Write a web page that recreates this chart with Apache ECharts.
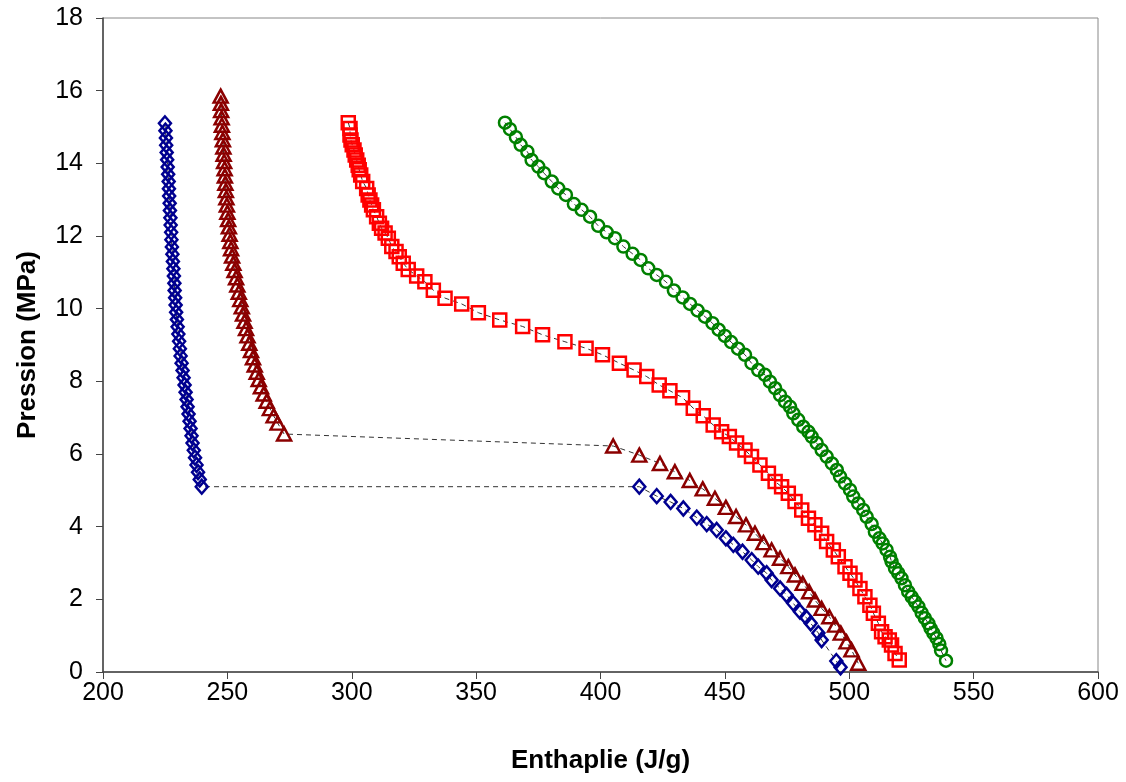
<!DOCTYPE html>
<html>
<head>
<meta charset="utf-8">
<script src="https://cdn.jsdelivr.net/npm/echarts@6/dist/echarts.min.js"></script>
<style>html,body{margin:0;padding:0;background:#fff}#c{width:1126px;height:782px}</style>
</head>
<body>
<div id="c"></div>
<script>
// Blue diamonds: enthalpy (J/g), pressure (MPa)
const blueH = [224.9,225.1,225.3,225.4,225.6,225.8,226.0,226.2,226.4,226.5,226.6,226.8,226.9,227.1,227.2,227.4,227.5,227.7,227.9,228.1,228.3,228.5,228.7,228.8,229.0,229.2,229.4,229.7,230.0,230.3,230.6,230.9,231.2,231.6,232.0,232.4,232.8,233.2,233.6,234.0,234.4,234.8,235.2,235.6,236.0,236.5,237.0,237.6,238.2,238.9,239.7,
  415.6,422.6,428.2,433.3,438.7,442.7,446.7,450.4,453.4,457.1,460.8,463.4,466.8,468.8,472.2,474.8,477.5,480.2,482.6,484.5,487.6,488.9,494.8,496.5];
const blueP = [15.10,14.90,14.70,14.50,14.30,14.10,13.90,13.70,13.50,13.30,13.10,12.90,12.70,12.50,12.30,12.10,11.90,11.70,11.50,11.30,11.10,10.90,10.70,10.50,10.30,10.10,9.90,9.70,9.50,9.30,9.10,8.90,8.70,8.50,8.30,8.10,7.90,7.70,7.50,7.30,7.10,6.90,6.70,6.50,6.30,6.10,5.90,5.70,5.50,5.30,5.10,
  5.10,4.84,4.68,4.50,4.25,4.07,3.91,3.68,3.50,3.31,3.08,2.90,2.72,2.53,2.30,2.12,1.89,1.66,1.51,1.34,1.07,0.88,0.30,0.13];

// Dark red triangles
const darkRedH = [247.3,247.4,247.5,247.7,247.8,248.0,248.2,248.4,248.5,248.7,248.9,249.0,249.2,249.4,249.6,249.8,250.0,250.3,250.6,250.9,251.2,251.5,251.9,252.4,252.9,253.5,254.0,254.6,255.2,255.8,256.3,256.9,257.5,258.1,258.8,259.5,260.3,261.0,261.8,262.6,263.5,264.6,265.8,267.1,268.6,270.2,272.8,
  405.1,415.6,423.9,429.9,435.9,441.1,446.0,450.4,454.5,458.5,462.1,465.5,468.8,472.2,475.5,478.2,481.3,483.9,486.2,488.9,492.0,494.3,496.6,498.9,500.9,503.6];
const darkRedP = [15.85,15.65,15.45,15.25,15.05,14.85,14.65,14.45,14.25,14.05,13.85,13.65,13.45,13.25,13.05,12.85,12.65,12.45,12.25,12.05,11.85,11.65,11.45,11.25,11.05,10.85,10.65,10.45,10.25,10.05,9.85,9.65,9.45,9.25,9.05,8.85,8.65,8.45,8.25,8.05,7.85,7.65,7.45,7.25,7.05,6.85,6.55,
  6.22,5.97,5.74,5.51,5.27,5.04,4.78,4.53,4.28,4.05,3.82,3.56,3.36,3.13,2.90,2.67,2.44,2.21,1.98,1.75,1.52,1.29,1.07,0.83,0.61,0.24];

// Red squares
const redH = [298.6,299.3,299.3,299.7,300.2,300.9,301.4,302.0,302.6,303.0,303.6,304.4,306.0,306.6,307.3,308.0,308.7,310.0,311.1,312.0,313.4,314.7,316.1,317.8,319.1,320.7,322.7,326.1,329.4,332.8,337.5,344.2,350.9,359.5,368.7,376.7,385.7,394.2,400.8,407.6,413.5,418.6,423.6,427.9,433.0,437.3,441.3,445.3,448.7,451.8,454.7,458.1,460.7,464.1,467.5,470.2,472.8,475.5,478.2,480.9,483.6,486.2,488.9,490.9,493.6,495.6,498.3,500.3,502.3,504.3,506.3,508.3,509.7,511.7,513.0,514.4,516.1,517.0,518.4,520.1];
const redP = [15.12,14.96,14.78,14.64,14.51,14.37,14.23,14.09,13.95,13.82,13.68,13.50,13.31,13.13,12.99,12.85,12.72,12.53,12.35,12.21,12.08,11.94,11.71,11.57,11.43,11.25,11.08,10.90,10.74,10.51,10.29,10.13,9.89,9.69,9.51,9.28,9.09,8.91,8.73,8.50,8.31,8.13,7.90,7.74,7.55,7.26,7.05,6.80,6.61,6.48,6.30,6.11,5.93,5.70,5.47,5.24,5.10,4.92,4.69,4.46,4.23,4.05,3.82,3.59,3.36,3.17,2.90,2.72,2.53,2.30,2.07,1.84,1.62,1.34,1.11,0.97,0.88,0.74,0.51,0.33];

// Green circles
const greenH = [361.6,363.6,366.0,367.9,370.6,372.3,375.0,377.3,380.4,383.0,386.1,389.3,392.4,395.8,399.1,402.5,405.8,409.2,412.9,416.1,419.2,422.6,426.3,429.5,433.0,436.0,439.0,442.0,445.0,447.5,450.0,452.5,455.3,458.1,460.7,463.4,466.1,468.1,470.2,472.2,474.2,476.2,477.5,479.5,481.5,483.6,484.9,486.9,488.9,490.9,493.0,495.0,496.3,498.3,500.3,501.6,503.6,505.6,507.0,509.0,510.3,512.1,513.4,515.0,516.4,517.0,518.4,519.7,521.0,522.4,523.7,525.1,526.4,527.8,529.1,530.4,531.8,532.7,533.8,535.1,536.2,536.9,538.9];
const greenP = [15.12,14.94,14.72,14.51,14.32,14.09,13.91,13.73,13.50,13.31,13.13,12.88,12.72,12.53,12.28,12.10,11.94,11.71,11.51,11.34,11.11,10.93,10.74,10.50,10.31,10.13,9.95,9.78,9.60,9.42,9.25,9.08,8.90,8.73,8.50,8.31,8.18,7.99,7.81,7.62,7.44,7.30,7.12,6.94,6.75,6.61,6.48,6.30,6.11,5.93,5.74,5.56,5.38,5.19,5.01,4.83,4.64,4.46,4.27,4.07,3.86,3.68,3.54,3.36,3.17,3.04,2.85,2.72,2.58,2.39,2.21,2.07,1.94,1.80,1.63,1.48,1.34,1.20,1.07,0.93,0.77,0.59,0.31];

const xTicks = [200,250,300,350,400,450,500,550,600];
const yTicks = [0,2,4,6,8,10,12,14,16,18];

function pairs(h, p) { return h.map((v, i) => [v, p[i]]); }

function mk(name, h, p, symbol, size, color) {
  return {
    name: name, type: 'line', data: pairs(h, p),
    symbol: symbol, symbolSize: size, showAllSymbol: true,
    lineStyle: { color: '#333', width: 1, type: [5, 4] },
    itemStyle: { color: 'rgba(255,255,255,0)', borderColor: color, borderWidth: 2.5 },
    emphasis: { disabled: true }
  };
}

const font = 'Liberation Sans, Arial';
const chart = echarts.init(document.getElementById('c'), null, { renderer: 'canvas' });
chart.setOption({
  animation: false,
  backgroundColor: '#fff',
  grid: { left: 103, right: 28, top: 18, bottom: 110, show: true, borderColor: '#888', borderWidth: 1 },
  xAxis: {
    type: 'value', min: xTicks[0], max: xTicks[xTicks.length - 1], interval: 50,
    name: 'Enthaplie (J/g)', nameLocation: 'middle', nameGap: 76,
    nameTextStyle: { fontFamily: font, fontWeight: 'bold', fontSize: 26, color: '#000' },
    axisLine: { lineStyle: { color: '#444', width: 1.5 } },
    axisTick: { show: true, inside: false, length: 7, lineStyle: { color: '#444' } },
    axisLabel: { fontFamily: font, fontSize: 25, color: '#000', margin: 9 },
    splitLine: { show: false }
  },
  yAxis: {
    type: 'value', min: yTicks[0], max: yTicks[yTicks.length - 1], interval: 2,
    name: 'Pression (MPa)', nameLocation: 'middle', nameGap: 62, nameRotate: 90,
    nameTextStyle: { fontFamily: font, fontWeight: 'bold', fontSize: 26, color: '#000' },
    axisLine: { show: true, lineStyle: { color: '#444', width: 1.5 } },
    axisTick: { show: true, inside: false, length: 7, lineStyle: { color: '#444' } },
    axisLabel: { fontFamily: font, fontSize: 25, color: '#000', margin: 20 },
    splitLine: { show: false }
  },
  series: [
    mk('A', blueH, blueP, 'diamond', [12, 14], '#000090'),
    mk('B', darkRedH, darkRedP, 'triangle', [14, 13], '#8B0000'),
    mk('C', redH, redP, 'rect', 13, '#FF0000'),
    mk('D', greenH, greenP, 'circle', 12, '#008000')
  ]
});
</script>
</body>
</html>
